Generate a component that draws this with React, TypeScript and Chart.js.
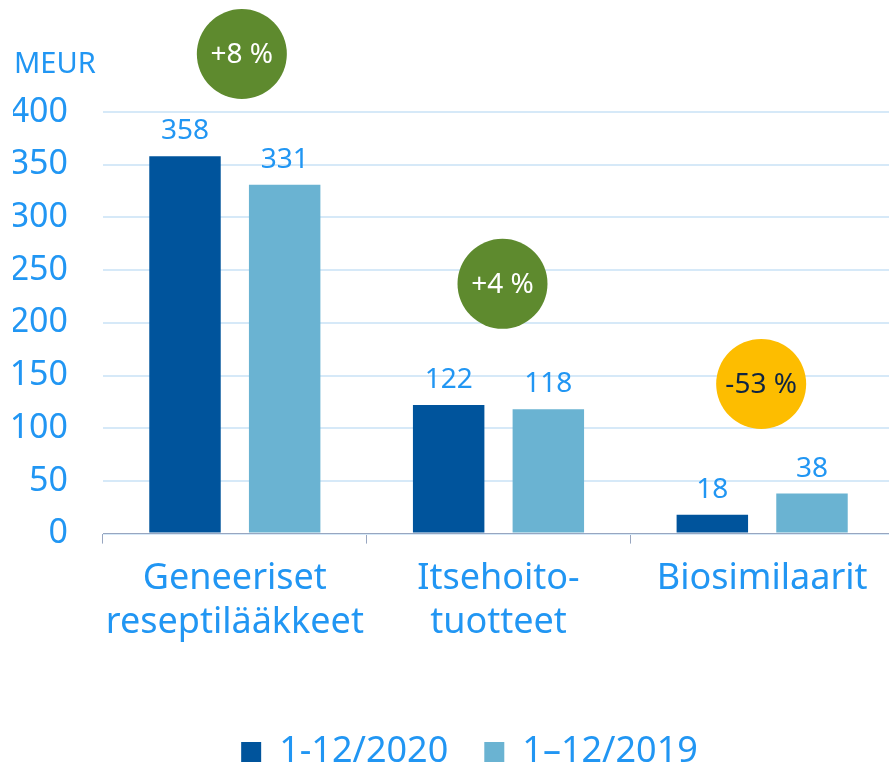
import React, { useEffect, useRef } from "react";
import { Chart, registerables } from "chart.js";

Chart.register(...registerables);

const categories: string[][] = [
  ["Geneeriset", "reseptilääkkeet"],
  ["Itsehoito-", "tuotteet"],
  ["Biosimilaarit"],
];
const series2020: number[] = [358, 122, 18];
const series2019: number[] = [331, 118, 38];
const seriesLabels: string[] = ["1-12/2020", "1\u201312/2019"];
const changeLabels: string[] = ["+8 %", "+4 %", "-53 %"];
const yTicks = { min: 0, max: 400, step: 50 };
const unitLabel = "MEUR";

const BLUE_TEXT = "#2196F3";
const DARK = "#00549C";
const LIGHT = "#6AB3D2";
const FONT = "'Noto Sans', 'DejaVu Sans', sans-serif";

const bubbleStyle = {
  levels: [455, 237, 142],
  fills: ["#5E8A2E", "#5E8A2E", "#FDBD00"],
  textColors: ["#FFFFFF", "#FFFFFF", "#0E2443"],
  radius: 45,
  dx: [7, 4, -1],
};

const annotations = {
  id: "annotations",
  afterLayout(chart: any) {
    const lg = chart.legend;
    if (lg) {
      lg.left += 16;
      lg.right += 16;
    }
  },
  afterDatasetsDraw(chart: any) {
    const { ctx, scales } = chart;
    ctx.save();
    // value labels
    ctx.font = `28px ${FONT}`;
    ctx.fillStyle = BLUE_TEXT;
    ctx.textAlign = "center";
    ctx.textBaseline = "alphabetic";
    chart.data.datasets.forEach((ds: any, i: number) => {
      chart.getDatasetMeta(i).data.forEach((bar: any, j: number) => {
        ctx.fillText(String(ds.data[j]), bar.x, bar.y - 17);
      });
    });
    // bubbles
    changeLabels.forEach((lab, i) => {
      const x = scales.x.getPixelForValue(i) + bubbleStyle.dx[i];
      const y = scales.y.getPixelForValue(bubbleStyle.levels[i]);
      ctx.beginPath();
      ctx.arc(x, y, bubbleStyle.radius, 0, Math.PI * 2);
      ctx.fillStyle = bubbleStyle.fills[i];
      ctx.fill();
      ctx.fillStyle = bubbleStyle.textColors[i];
      ctx.font = `28px ${FONT}`;
      ctx.textBaseline = "middle";
      ctx.fillText(lab, x, y + 1);
    });
    // unit label
    ctx.font = `29px ${FONT}`;
    ctx.fillStyle = BLUE_TEXT;
    ctx.textAlign = "left";
    ctx.textBaseline = "alphabetic";
    ctx.fillText(unitLabel, 14, scales.y.getPixelForValue(yTicks.max) - 39);
    ctx.restore();
  },
};

export default function App() {
  const ref = useRef<HTMLCanvasElement | null>(null);
  useEffect(() => {
    document.body.style.margin = "0";
    const chart = new Chart(ref.current!, {
      type: "bar",
      data: {
        labels: categories,
        datasets: [
          {
            label: seriesLabels[0],
            data: series2020,
            backgroundColor: DARK,
            borderWidth: 0,
            categoryPercentage: 0.756,
            barPercentage: 0.717,
          },
          {
            label: seriesLabels[1],
            data: series2019,
            backgroundColor: LIGHT,
            borderWidth: 0,
            categoryPercentage: 0.756,
            barPercentage: 0.717,
          },
        ],
      },
      options: {
        animation: false,
        responsive: false,
        maintainAspectRatio: false,
        layout: { padding: { left: 13, top: 112, right: 0, bottom: -15 } },
        plugins: {
          tooltip: { enabled: false },
          title: { display: false },
          legend: {
            position: "bottom",
            fullSize: true,
            labels: {
              boxWidth: 20,
              boxHeight: 20,
              padding: 36,
              color: BLUE_TEXT,
              font: { family: FONT, size: 36 },
            },
          },
        },
        scales: {
          x: {
            grid: {
              display: true,
              drawOnChartArea: false,
              drawTicks: true,
              tickLength: 10,
              color: "#98A6C0",
              offset: true,
            },
            border: { display: true, color: "#98A6C0", width: 1 },
            ticks: {
              color: BLUE_TEXT,
              padding: 14,
              font: { family: FONT, size: 36, lineHeight: 1.2 },
              maxRotation: 0,
              autoSkip: false,
            },
            afterFit: (scale: any) => {
              scale.height += 40;
              scale.paddingLeft = 0;
              scale.paddingRight = 0;
            },
          },
          y: {
            min: yTicks.min,
            max: yTicks.max,
            grid: { color: "#D6E9F8", drawTicks: false, lineWidth: 2 },
            border: { display: false },
            ticks: {
              stepSize: yTicks.step,
              color: BLUE_TEXT,
              padding: 35,
              font: { family: FONT, size: 34 },
            },
            afterFit: (scale: any) => {
              scale.width = 90;
            },
          },
        },
      },
      plugins: [annotations],
    });
    return () => chart.destroy();
  }, []);
  return (
    <div style={{ position: "absolute", left: 0, top: 0, width: 889, height: 765, overflow: "hidden" }}>
      <canvas ref={ref} width={894} height={765} style={{ display: "block" }} />
    </div>
  );
}
